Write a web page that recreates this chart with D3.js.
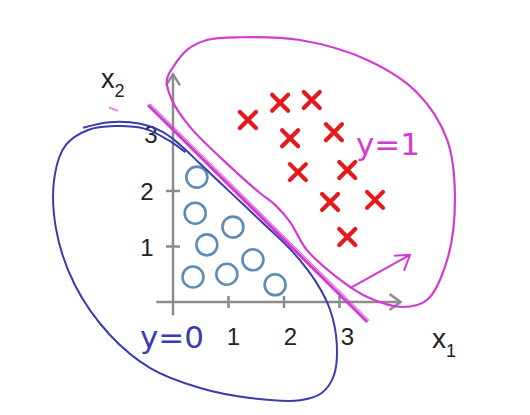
<!DOCTYPE html>
<html><head><meta charset="utf-8">
<script src="https://cdn.jsdelivr.net/npm/d3@7"></script>
<style>html,body{margin:0;padding:0;background:#fff}svg{display:block}</style>
</head><body>
<svg id="chart" width="530" height="415"></svg>
<script>
// ---- data (in x1 / x2 data units) ----
const xTicks = [1, 2, 3];
const yTicks = [1, 2];
const yTickLabels = [1, 2, 3];
const circleX = [0.43, 0.40, 1.08, 0.61, 0.36, 0.97, 1.44, 1.84];
const circleY = [2.25, 1.60, 1.35, 1.03, 0.45, 0.50, 0.76, 0.31];
const crossX = [1.35, 1.93, 2.50, 2.11, 2.90, 2.25, 3.14, 2.83, 3.64, 3.14];
const crossY = [3.28, 3.59, 3.64, 2.95, 3.06, 2.34, 2.38, 1.80, 1.84, 1.17];
// decision boundary x1 + x2 = 3 (hand drawn)
const boundaryX = [-0.45, 3.50];
const boundaryY = [3.55, -0.36];
// magenta loop around y=1 region
const pinkLoopX = [1.57, 1.84, 2.11, 2.41, 2.95, 3.50, 4.14, 4.58, 4.94, 5.08, 4.94, 4.40, 3.50, 2.29, 1.21, 0.61, 0.25, 0.00, -0.11, -0.02, 0.31, 0.90];
const pinkLoopY = [1.96, 1.75, 1.44, 0.94, 0.45, 0.09, -0.09, 0.04, 0.76, 1.84, 2.92, 3.77, 4.36, 4.72, 4.77, 4.72, 4.54, 4.23, 4.00, 3.64, 3.15, 2.56];
// blue loop around y=0 region
const blueLoopX = [-1.62, -1.14, -0.59, -0.18, 0.13, 0.49, 1.03, 1.60, 2.16, 2.59, 2.83, 2.95, 2.90, 2.68, 2.29, 1.39, 0.49, -0.41, -1.14, -1.77, -2.11, -2.13, -1.93, -1.53, -1.05, -0.50, -0.09, 0.22];
const blueLoopY = [3.14, 3.24, 3.21, 3.06, 2.83, 2.49, 1.98, 1.44, 0.90, 0.34, -0.14, -0.74, -1.32, -1.64, -1.77, -1.73, -1.55, -1.19, -0.59, 0.31, 1.33, 2.29, 2.83, 3.10, 3.17, 3.12, 2.92, 2.70];
// arrow pointing towards y=1 side
const arrowX = [3.19, 4.27];
const arrowY = [0.25, 0.85];
// small stray pen mark near the x2 label
const markX = [-1.14, -1.01];
const markY = [3.50, 3.45];

// ---- drawing ----
const svg = d3.select("#chart");
const x = d3.scaleLinear().domain([0, 1]).range([173, 228.5]);
const y = d3.scaleLinear().domain([0, 1]).range([302, 246.5]);

const axisColor = "#8c8c8c";
const blue = "#3b3bb0";
const pink = "#d23ad2";
const red = "#e6191c";
const circ = "#5b8db6";
const font = "Liberation Sans, Arial, sans-serif";

const g = svg.append("g");

// axes
g.append("line").attr("x1", x(-0.3)).attr("x2", x(4.1)).attr("y1", y(0)).attr("y2", y(0))
  .attr("stroke", axisColor).attr("stroke-width", 2.5);
g.append("line").attr("x1", x(0)).attr("x2", x(0)).attr("y1", y(-0.24)).attr("y2", y(4.1))
  .attr("stroke", axisColor).attr("stroke-width", 2.5);
// arrowheads
g.append("path").attr("d", `M${x(4.1)-11},${y(0)-8}L${x(4.1)},${y(0)}L${x(4.1)-11},${y(0)+8}`)
  .attr("fill", "none").attr("stroke", axisColor).attr("stroke-width", 2.5);
g.append("path").attr("d", `M${x(0)-7},${y(4.1)+11}L${x(0)},${y(4.1)}L${x(0)+7},${y(4.1)+11}`)
  .attr("fill", "none").attr("stroke", axisColor).attr("stroke-width", 2.5);
// ticks
g.selectAll(".xt").data(xTicks).join("line")
  .attr("x1", d => x(d)).attr("x2", d => x(d)).attr("y1", y(0) - 6).attr("y2", y(0) + 6)
  .attr("stroke", axisColor).attr("stroke-width", 2.5);
g.selectAll(".yt").data(yTicks).join("line")
  .attr("y1", d => y(d)).attr("y2", d => y(d)).attr("x1", x(0) - 7).attr("x2", x(0) + 7)
  .attr("stroke", axisColor).attr("stroke-width", 2.5);
// tick labels
g.selectAll(".xl").data(xTicks).join("text")
  .attr("x", d => x(d) + 5 + (d - 1) * 1.5).attr("y", y(0) + 43)
  .attr("text-anchor", "middle").attr("font-family", font)
  .attr("font-size", 24).attr("fill", "#222").text(d => d);
g.selectAll(".yl").data(yTickLabels).join("text")
  .attr("x", d => x(0) - (d === 3 ? 22 : 26)).attr("y", d => y(d) + (d === 3 ? 7 : 9))
  .attr("text-anchor", "middle").attr("font-family", font)
  .attr("font-size", 24).attr("fill", "#222").text(d => d);

// axis titles
const t2 = g.append("text").attr("x", 101).attr("y", 88)
  .attr("font-family", font).attr("fill", "#222");
t2.append("tspan").attr("font-size", 27).text("x");
t2.append("tspan").attr("font-size", 18).attr("dy", 9).text("2");
const t1 = g.append("text").attr("x", 432).attr("y", 348)
  .attr("font-family", font).attr("fill", "#222");
t1.append("tspan").attr("font-size", 28).text("x");
t1.append("tspan").attr("font-size", 18).attr("dy", 9).text("1");

// circles (y = 0)
g.selectAll(".c").data(circleX.map((d, i) => [d, circleY[i]])).join("circle")
  .attr("cx", d => x(d[0])).attr("cy", d => y(d[1])).attr("r", 10.5)
  .attr("fill", "none").attr("stroke", circ).attr("stroke-width", 2.6);

// crosses (y = 1)
const s = 8;
g.selectAll(".x").data(crossX.map((d, i) => [d, crossY[i]])).join("path")
  .attr("d", d => `M${x(d[0])-s},${y(d[1])-s}L${x(d[0])+s},${y(d[1])+s}M${x(d[0])+s},${y(d[1])-s}L${x(d[0])-s},${y(d[1])+s}`)
  .attr("stroke", red).attr("stroke-width", 4.2).attr("stroke-linecap", "round").attr("fill", "none");

// magenta loop
const lineC = d3.line().x(d => x(d[0])).y(d => y(d[1])).curve(d3.curveCatmullRomClosed);
g.append("path").attr("d", lineC(pinkLoopX.map((d, i) => [d, pinkLoopY[i]])))
  .attr("fill", "none").attr("stroke", pink).attr("stroke-width", 2.2);

// blue loop
const lineO = d3.line().x(d => x(d[0])).y(d => y(d[1])).curve(d3.curveCatmullRom);
g.append("path").attr("d", lineO(blueLoopX.map((d, i) => [d, blueLoopY[i]])))
  .attr("fill", "none").attr("stroke", blue).attr("stroke-width", 2);

// decision boundary
const lineS = d3.line().x(d => x(d[0])).y(d => y(d[1]));
g.append("path").attr("d", lineS(boundaryX.map((d, i) => [d, boundaryY[i]])))
  .attr("fill", "none").attr("stroke", pink).attr("stroke-width", 3);
g.append("path").attr("d", lineS(boundaryX.map((d, i) => [d + 0.04, boundaryY[i] + 0.02])))
  .attr("fill", "none").attr("stroke", pink).attr("stroke-width", 1.2).attr("opacity", 0.7);

// arrow
const ax0 = x(arrowX[0]), ay0 = y(arrowY[0]), ax1 = x(arrowX[1]), ay1 = y(arrowY[1]);
g.append("path").attr("d", `M${ax0},${ay0}L${ax1},${ay1}M${ax1-16},${ay1+1}L${ax1},${ay1}L${ax1-6},${ay1+16}`)
  .attr("fill", "none").attr("stroke", pink).attr("stroke-width", 2).attr("stroke-linejoin", "round");

// stray mark
g.append("path").attr("d", lineS(markX.map((d, i) => [d, markY[i]])))
  .attr("fill", "none").attr("stroke", pink).attr("stroke-width", 2).attr("opacity", 0.6).attr("stroke-linecap", "round");

// handwritten labels
g.append("text").attr("x", 140).attr("y", 348)
  .attr("font-family", "DejaVu Sans, sans-serif").attr("font-size", 31).attr("fill", blue)
  .text("y=0");
g.append("text").attr("x", 356).attr("y", 155)
  .attr("font-family", "DejaVu Sans, sans-serif").attr("font-size", 31).attr("fill", pink)
  .text("y=1");
</script>
</body></html>
